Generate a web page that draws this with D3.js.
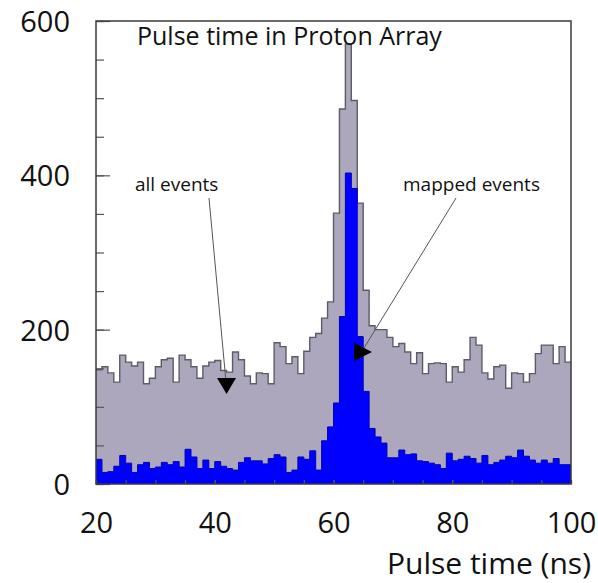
<!DOCTYPE html>
<html><head><meta charset="utf-8">
<script src="https://cdn.jsdelivr.net/npm/d3@7"></script>
<style>body{margin:0;background:#fff}svg{display:block}</style>
</head><body>
<svg id="c" width="598" height="583"></svg>
<script>
// Histogram bins: 1 ns wide, starting at 20 ns
const binStarts = d3.range(20, 100, 1);
const allEvents = [
  148,152,144,132,167,158,153,158,130,137,
  152,161,163,132,167,161,152,137,153,158,
  160,147,145,171,161,140,130,144,143,130,
  183,178,156,165,143,172,190,195,215,236,
  351,486,570,497,364,251,205,200,200,190,
  178,182,171,156,170,143,156,157,156,132,
  152,145,161,190,180,144,136,152,154,124,
  144,143,132,143,169,180,180,156,178,158
];
const mappedEvents = [
  32,15,16,23,37,27,15,25,28,20,
  22,28,25,29,22,45,35,20,31,20,
  29,23,20,18,28,34,30,30,26,33,
  38,35,15,18,35,32,43,18,56,74,
  105,217,403,383,191,120,72,61,53,34,
  34,44,38,39,30,29,27,25,20,40,
  30,32,36,33,27,37,25,28,31,36,
  34,44,36,31,27,31,27,33,25,25
];
const xTicks = [20, 40, 60, 80, 100];
const xMinorTicks = d3.range(20, 101, 5);
const yTicks = [0, 200, 400, 600];
const yMinorTicks = d3.range(0, 601, 50);
const title = "Pulse time in Proton Array";
const xTitle = "Pulse time (ns)";
const labelAll = "all events";
const labelMapped = "mapped events";

const svg = d3.select("#c");
const L = 96, R = 571, T = 21, B = 484;
const x = d3.scaleLinear().domain([20, 100]).range([L, R]);
const y = d3.scaleLinear().domain([0, 600]).range([B, T]);

function stepData(vals) {
  const d = binStarts.map((s, i) => ({x: s, v: vals[i]}));
  d.push({x: binStarts[binStarts.length - 1] + 1, v: vals[vals.length - 1]});
  return d;
}
const area = d3.area().curve(d3.curveStepAfter).x(d => x(d.x)).y0(y(0)).y1(d => y(d.v));
const line = d3.line().curve(d3.curveStepAfter).x(d => x(d.x)).y(d => y(d.v));

const allD = stepData(allEvents);
svg.append("path").attr("d", area(allD)).attr("fill", "#aca7bd");
svg.append("path").attr("d", line(allD)).attr("fill", "none").attr("stroke", "#5c5c66").attr("stroke-width", 1.4);

const mapD = stepData(mappedEvents);
svg.append("path").attr("d", area(mapD)).attr("fill", "#0000ff");
svg.append("path").attr("d", line(mapD)).attr("fill", "none").attr("stroke", "#0000b4").attr("stroke-width", 1);

// axes
const font = "'Open Sans', sans-serif";
const yMinor = svg.append("g").attr("transform", `translate(${L},0)`)
  .call(d3.axisLeft(y).tickValues(yMinorTicks).tickSize(-8).tickFormat(""));
const yAx = svg.append("g").attr("transform", `translate(${L},0)`)
  .call(d3.axisLeft(y).tickValues(yTicks).tickSizeInner(-14).tickSizeOuter(0).tickPadding(26));
const xMinor = svg.append("g").attr("transform", `translate(0,${B})`)
  .call(d3.axisBottom(x).tickValues(xMinorTicks).tickSize(-4).tickFormat(""));
const xAx = svg.append("g").attr("transform", `translate(0,${B})`)
  .call(d3.axisBottom(x).tickValues(xTicks).tickSizeInner(-4).tickSizeOuter(0).tickPadding(28));
[yMinor, yAx, xMinor, xAx].forEach(g => {
  g.select(".domain").remove();
  g.selectAll(".tick line").attr("stroke", "#555").attr("stroke-width", 1.2);
  g.selectAll("text").attr("font-family", font).attr("font-size", 29).attr("fill", "#111");
});
yAx.selectAll("text").attr("dy", "0.36em");

// frame
svg.append("rect").attr("x", L).attr("y", T).attr("width", R - L).attr("height", B - T)
  .attr("fill", "none").attr("stroke", "#3a3a3a").attr("stroke-width", 1.5);

// texts
svg.append("text").attr("x", 137).attr("y", 45).text(title)
  .attr("font-family", font).attr("font-size", 25).attr("fill", "#111");
svg.append("text").attr("x", 591).attr("y", 574).attr("text-anchor", "end").text(xTitle)
  .attr("font-family", font).attr("font-size", 30).attr("fill", "#111");
svg.append("text").attr("x", 135).attr("y", 191).text(labelAll)
  .attr("font-family", font).attr("font-size", 19).attr("fill", "#111");
svg.append("text").attr("x", 403).attr("y", 191).text(labelMapped)
  .attr("font-family", font).attr("font-size", 19).attr("fill", "#111");

// arrows
svg.append("line").attr("x1", 209).attr("y1", 198).attr("x2", 226).attr("y2", 382)
  .attr("stroke", "#555").attr("stroke-width", 1);
svg.append("path").attr("d", "M217,378 L236,378 L226.5,394 Z").attr("fill", "#000");
svg.append("line").attr("x1", 456).attr("y1", 198).attr("x2", 364).attr("y2", 348)
  .attr("stroke", "#555").attr("stroke-width", 1);
svg.append("path").attr("d", "M354,343 L354,361 L372,352 Z").attr("fill", "#000");
</script>
</body></html>
